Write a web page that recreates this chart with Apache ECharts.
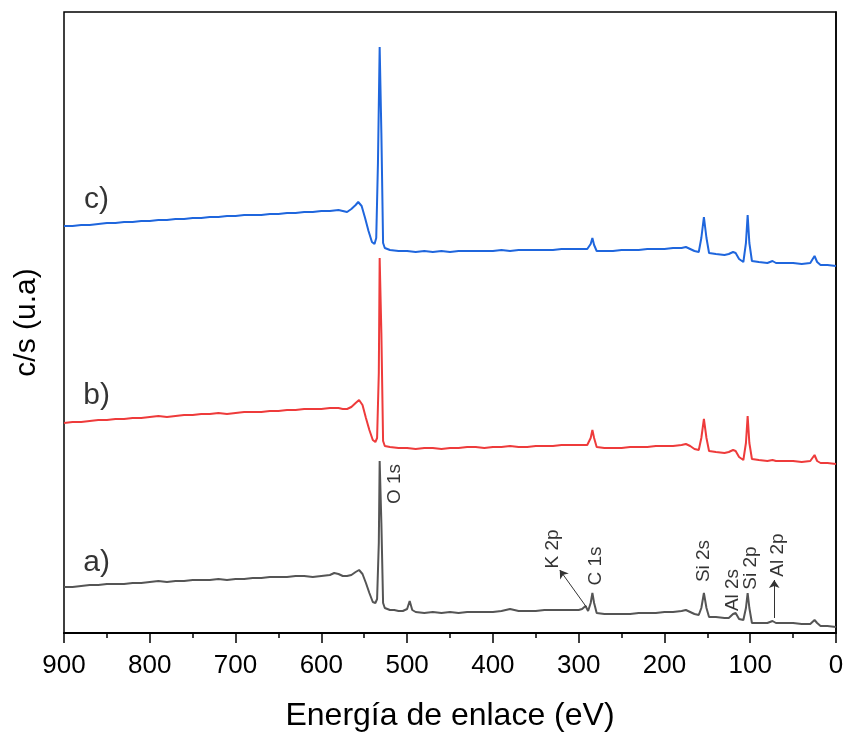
<!DOCTYPE html>
<html>
<head>
<meta charset="utf-8">
<script src="https://cdn.jsdelivr.net/npm/echarts@6/dist/echarts.min.js"></script>
<style>
  html, body { margin: 0; padding: 0; background: #fff; }
  #chart { width: 846px; height: 733px; }
</style>
</head>
<body>
<div id="chart"></div>
<script>
// binding energy (eV) -> counts (arbitrary, stacked with offsets)
const specA = [
  [900,46],[890,46],[880,47],[870,48],[860,48],[850,49],[840,49],[830,49],[820,50],[810,50],
  [800,51],[790,52],[780,51],[770,52],[760,52],[750,53],[740,53],[730,53],[720,54],[710,53],
  [700,54],[690,54],[680,55],[670,55],[660,56],[650,56],[640,56],[630,57],[620,57],[610,56],
  [600,57],[590,58],[585,60],[580,59],[575,57],[570,57],[565,58],[560,61],[556,63],[552,59],
  [548,50],[544,40],[540,31],[537,30],[535,34],[533,90],[532,172],[530,110],[528,30],[526,25],
  [520,23],[515,23],[510,22],[505,22],[500,24],[497,32],[494,23],[490,21],[480,20],[470,21],
  [460,20],[450,21],[440,20],[430,21],[420,21],[410,21],[400,21],[390,22],[380,24],[375,23],
  [370,22],[360,22],[350,22],[340,23],[330,23],[320,23],[310,23],[300,23],[296,24],[292,27],
  [289,22],[286,30],[284,40],[282,30],[279,20],[270,19],[260,19],[250,19],[240,19],[230,20],
  [220,20],[210,20],[200,21],[190,21],[180,22],[175,23],[170,21],[165,19],[160,18],[157,25],
  [154,40],[151,25],[148,16],[140,16],[130,15],[125,15],[120,19],[117,20],[113,14],[108,13],
  [105,25],[103,40],[101,25],[98,10],[90,10],[80,10],[74,12],[70,10],[60,10],[50,10],
  [40,9],[30,9],[25,13],[22,10],[18,7],[10,7],[0,6]
];
const specB = [
  [900,210],[890,211],[880,211],[870,212],[860,213],[850,213],[840,214],[830,214],[820,215],[810,215],
  [800,216],[790,217],[780,216],[770,217],[760,218],[750,218],[740,219],[730,219],[720,220],[710,219],
  [700,220],[690,221],[680,221],[670,221],[660,222],[650,222],[640,223],[630,223],[620,224],[610,224],
  [600,224],[590,225],[580,225],[575,224],[570,224],[565,226],[560,230],[556,233],[552,228],[548,215],
  [544,203],[540,193],[537,191],[535,195],[533,260],[532,375],[530,300],[528,192],[526,187],[520,186],
  [510,185],[500,185],[490,184],[480,185],[470,185],[460,184],[450,185],[440,185],[430,186],[420,186],
  [410,185],[400,186],[390,186],[380,187],[370,186],[360,186],[350,187],[340,187],[330,187],[320,188],
  [310,188],[300,188],[290,188],[286,195],[284,203],[282,195],[279,186],[270,185],[260,185],[250,185],
  [240,186],[230,186],[220,186],[210,187],[200,187],[190,187],[180,188],[175,189],[170,187],[165,184],
  [160,183],[157,195],[154,214],[151,195],[148,182],[140,181],[130,180],[125,181],[120,183],[117,182],
  [113,176],[108,173],[105,190],[103,217],[101,190],[98,174],[90,173],[80,172],[74,173],[70,172],
  [60,172],[50,172],[40,171],[30,172],[25,178],[22,172],[18,170],[10,170],[0,169]
];
const specC = [
  [900,407],[890,407],[880,408],[870,408],[860,409],[850,410],[840,410],[830,411],[820,411],[810,412],
  [800,412],[790,413],[780,413],[770,414],[760,414],[750,415],[740,415],[730,416],[720,416],[710,417],
  [700,417],[690,418],[680,418],[670,418],[660,419],[650,419],[640,420],[630,420],[620,421],[610,421],
  [600,422],[590,422],[580,423],[575,422],[570,421],[565,424],[560,428],[557,431],[553,427],[549,415],
  [545,402],[541,391],[538,389],[536,395],[534,470],[532,586],[530,500],[528,390],[526,385],[520,383],
  [510,382],[500,382],[490,381],[480,382],[470,381],[460,382],[450,381],[440,382],[430,382],[420,382],
  [410,382],[400,382],[390,383],[380,382],[370,383],[360,383],[350,383],[340,383],[330,383],[320,384],
  [310,384],[300,384],[290,384],[286,389],[284,395],[282,388],[279,382],[270,382],[260,382],[250,383],
  [240,383],[230,383],[220,384],[210,384],[200,384],[190,385],[180,385],[175,386],[170,384],[165,382],
  [160,381],[157,395],[154,416],[151,395],[148,380],[140,379],[130,378],[125,379],[120,381],[117,380],
  [113,374],[108,371],[105,390],[103,418],[101,390],[98,372],[90,371],[80,370],[74,372],[70,370],
  [60,370],[50,370],[40,369],[30,370],[25,377],[22,371],[18,368],[10,368],[0,367]
];

// sample tags a) b) c)
const tagNames = ["a)", "b)", "c)"];
const tagPos = [[862, 70], [862, 237], [862, 433]];

// peak assignments (rotated text), placed in data coords
const peakNames = ["O 1s", "K 2p", "C 1s", "Si 2s", "Al 2s", "Si 2p", "Al 2p"];
const peakPos = [[514, 149], [330, 84], [280, 67], [154, 72], [120, 43], [99, 65], [68, 78]];

// arrows pointing to weak peaks
const arrows = [
  [[291, 26], [322, 63]],
  [[72, 15], [72, 53]]
];

const chart = echarts.init(document.getElementById("chart"));
const FONT = "Liberation Sans, Arial, sans-serif";

chart.setOption({
  animation: false,
  backgroundColor: "#fff",
  grid: {
    left: 64, right: 10, top: 12, bottom: 100, outerBoundsMode: "none",
    show: true, borderColor: "#000", borderWidth: 1.5
  },
  xAxis: {
    type: "value", inverse: true, min: 0, max: 900, interval: 100,
    name: "Energía de enlace (eV)", nameLocation: "middle", nameGap: 67,
    nameTextStyle: { fontSize: 32, color: "#000", fontFamily: FONT },
    axisLine: { lineStyle: { color: "#000", width: 2 } },
    axisTick: { show: true, length: 10, lineStyle: { color: "#000", width: 1.5 } },
    minorTick: { show: true, splitNumber: 2, length: 5, lineStyle: { color: "#000", width: 1.5 } },
    axisLabel: { fontSize: 26, color: "#000", margin: 20, fontFamily: FONT },
    splitLine: { show: false }
  },
  yAxis: {
    type: "value", min: 0, max: 621,
    name: "c/s (u.a)", nameLocation: "middle", nameGap: 22, nameRotate: 90,
    nameTextStyle: { fontSize: 30, color: "#000", fontFamily: FONT },
    axisLine: { show: true, lineStyle: { color: "#000", width: 1.5 } },
    axisTick: { show: false }, axisLabel: { show: false }, splitLine: { show: false }
  },
  series: [
    {
      type: "line", data: specA, showSymbol: false, smooth: false,
      lineStyle: { color: "#555555", width: 2 }, itemStyle: { color: "#555555" },
      markLine: {
        silent: true, symbol: ["none", "arrow"], symbolSize: 8,
        lineStyle: { color: "#333", width: 1, type: "solid" }, label: { show: false },
        data: arrows.map(a => [{ coord: a[0] }, { coord: a[1] }])
      }
    },
    {
      type: "line", data: specB, showSymbol: false, smooth: false,
      lineStyle: { color: "#EE3B3B", width: 2 }, itemStyle: { color: "#EE3B3B" }
    },
    {
      type: "line", data: specC, showSymbol: false, smooth: false,
      lineStyle: { color: "#1F66DD", width: 2 }, itemStyle: { color: "#1F66DD" }
    },
    {
      type: "scatter", symbolSize: 0, silent: true,
      data: tagNames.map((n, i) => ({ value: tagPos[i], name: n })),
      label: { show: true, position: "inside", formatter: p => p.name, fontSize: 30, color: "#000", fontFamily: FONT }
    },
    {
      type: "scatter", symbolSize: 0, silent: true,
      data: peakNames.map((n, i) => ({ value: peakPos[i], name: n })),
      label: { show: true, position: "inside", rotate: 90, formatter: p => p.name, fontSize: 19, color: "#000", fontFamily: FONT }
    }
  ]
});
</script>
</body>
</html>
